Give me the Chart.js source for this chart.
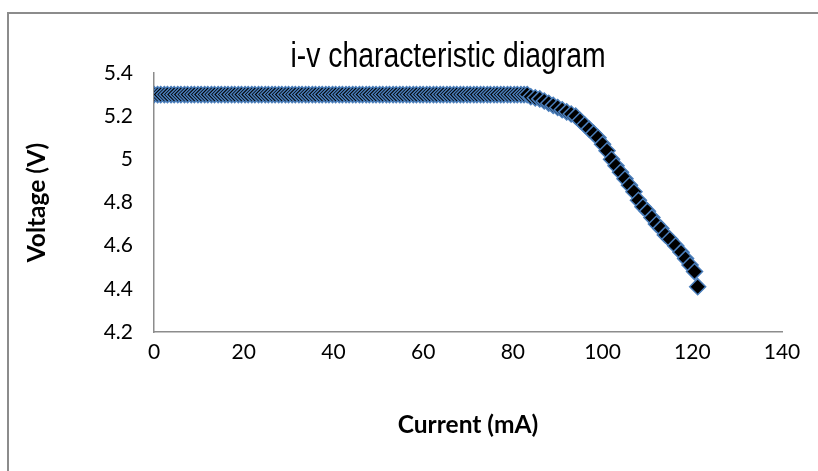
<!DOCTYPE html>
<html>
<head>
<meta charset="utf-8">
<script src="https://cdn.jsdelivr.net/npm/chart.js@4"></script>
<style>
  html, body { margin: 0; padding: 0; background: #fff; overflow: hidden; }
  #wrap { position: relative; width: 818px; height: 471px; }
  #frame { position: absolute; left: 7px; top: 12px; width: 840px; height: 500px; border: 2px solid #8c8c8c; box-sizing: border-box; }
  #c { position: absolute; left: 0; top: 0; }
</style>
</head>
<body>
<div id="wrap">
  <div id="frame"></div>
  <canvas id="c" width="818" height="471"></canvas>
</div>
<script>
const titleText = 'i-v characteristic diagram';
const xTitle = 'Current (mA)';
const yTitle = 'Voltage (V)';
const xTicks = [0, 20, 40, 60, 80, 100, 120, 140];
const yTicks = [4.2, 4.4, 4.6, 4.8, 5.0, 5.2, 5.4];

const current = [
  0,0.8,1.5,2.3,3,3.8,4.5,5.3,6,6.8,7.5,8.3,9,9.8,10.5,11.3,12,12.8,13.5,14.3,
  15,15.8,16.5,17.3,18,18.8,19.5,20.3,21,21.8,22.5,23.3,24,24.8,25.5,26.3,27,27.8,28.5,29.3,
  30,30.8,31.5,32.3,33,33.8,34.5,35.3,36,36.8,37.5,38.3,39,39.8,40.5,41.3,42,42.8,43.5,44.3,
  45,45.8,46.5,47.3,48,48.8,49.5,50.3,51,51.8,52.5,53.3,54,54.8,55.5,56.3,57,57.8,58.5,59.3,
  60,60.8,61.5,62.3,63,63.8,64.5,65.3,66,66.8,67.5,68.3,69,69.8,70.5,71.3,72,72.8,73.5,74.3,
  75,75.8,76.5,77.3,78,78.8,79.5,80.3,81,81.8,82.5,83.2,
  84,85,86,87,88,89,90,91,92,93,94,95,96,97,98,99,100,101,102,103,
  104,105,106,107,108,109,110,111,112,113,114,115,116.3,117.5,118.5,119.5,120.5,121.2
];
const voltage = [
  5.3,5.3,5.3,5.3,5.3,5.3,5.3,5.3,5.3,5.3,5.3,5.3,5.3,5.3,5.3,5.3,5.3,5.3,5.3,5.3,
  5.3,5.3,5.3,5.3,5.3,5.3,5.3,5.3,5.3,5.3,5.3,5.3,5.3,5.3,5.3,5.3,5.3,5.3,5.3,5.3,
  5.3,5.3,5.3,5.3,5.3,5.3,5.3,5.3,5.3,5.3,5.3,5.3,5.3,5.3,5.3,5.3,5.3,5.3,5.3,5.3,
  5.3,5.3,5.3,5.3,5.3,5.3,5.3,5.3,5.3,5.3,5.3,5.3,5.3,5.3,5.3,5.3,5.3,5.3,5.3,5.3,
  5.3,5.3,5.3,5.3,5.3,5.3,5.3,5.3,5.3,5.3,5.3,5.3,5.3,5.3,5.3,5.3,5.3,5.3,5.3,5.3,
  5.3,5.3,5.3,5.3,5.3,5.3,5.3,5.3,5.3,5.3,5.3,5.3,
  5.29,5.285,5.28,5.27,5.26,5.25,5.24,5.23,5.22,5.21,5.2,5.18,5.16,5.14,5.12,5.1,5.07,5.04,5.0,4.97,
  4.94,4.91,4.88,4.85,4.81,4.78,4.76,4.73,4.7,4.68,4.65,4.63,4.6,4.57,4.54,4.51,4.48,4.41
];

const points = current.map((x, i) => ({ x: x, y: voltage[i] }));

const axisColor = '#8c8c8c';
const tickFont = { family: 'Lato, "Open Sans", sans-serif', size: 21 };
const axisTitleFont = { family: 'Lato, "Open Sans", sans-serif', size: 24.5, weight: 'bold', lineHeight: 1.2 };

const narrowTitle = {
  id: 'narrowTitle',
  afterDraw(chart) {
    const ctx = chart.ctx;
    ctx.save();
    ctx.font = '35px "Liberation Sans", Arial, sans-serif';
    ctx.fillStyle = '#000';
    ctx.textAlign = 'center';
    ctx.textBaseline = 'alphabetic';
    ctx.translate(448, 67);
    ctx.scale(0.81, 1);
    ctx.fillText(titleText, 0, 0);
    ctx.restore();
  }
};

new Chart(document.getElementById('c'), {
  type: 'scatter',
  data: {
    datasets: [{
      label: 'V',
      data: points,
      pointStyle: 'rectRot',
      pointRadius: 8,
      pointBackgroundColor: '#000000',
      pointBorderColor: '#4a7ebb',
      pointBorderWidth: 1.5,
      showLine: false
    }]
  },
  options: {
    responsive: false,
    animation: false,
    events: [],
    layout: { padding: { left: 0, right: 36, top: 73, bottom: 0 } },
    plugins: {
      legend: { display: false },
      tooltip: { enabled: false },
      title: { display: false }
    },
    scales: {
      x: {
        type: 'linear',
        min: 0, max: 140,
        afterBuildTicks: (s) => { s.ticks = xTicks.map(v => ({ value: v })); },
        afterFit: (s) => { s.height = 139; },
        grid: { display: false },
        border: { display: true, color: axisColor, width: 1.5 },
        ticks: { color: '#000', font: tickFont, padding: 0, maxRotation: 0, autoSkip: false },
        title: { display: true, text: xTitle, color: '#000', font: axisTitleFont, padding: { top: 0, bottom: 31 } }
      },
      y: {
        type: 'linear',
        min: 4.2, max: 5.4,
        afterBuildTicks: (s) => { s.ticks = yTicks.map(v => ({ value: v })); },
        afterFit: (s) => { s.width = 154; },
        grid: { display: false },
        border: { display: true, color: axisColor, width: 1.5 },
        ticks: { color: '#000', font: tickFont, padding: 13, callback: (v) => String(Math.round(v * 10) / 10) },
        title: { display: true, text: yTitle, color: '#000', font: axisTitleFont, padding: { top: 22, bottom: 0 } }
      }
    }
  },
  plugins: [narrowTitle]
});
</script>
</body>
</html>
